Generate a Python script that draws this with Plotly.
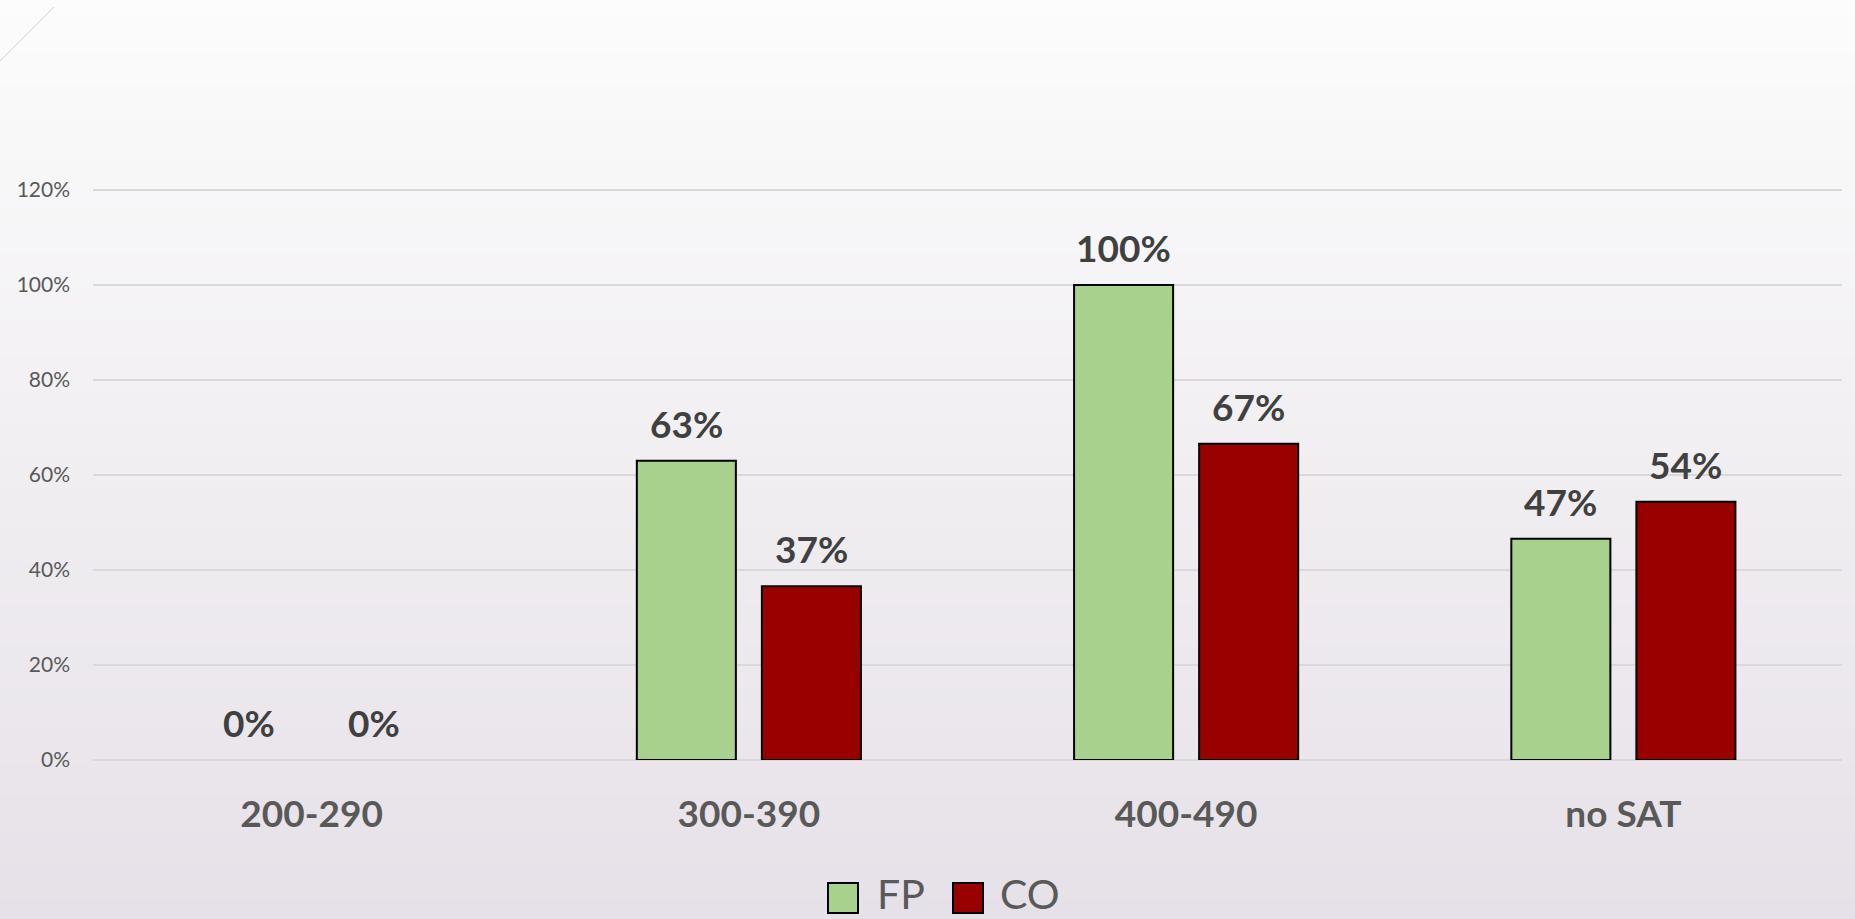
import base64, struct, zlib
import plotly.graph_objects as go

categories = ["200-290", "300-390", "400-490", "no SAT"]
fp_values = [0.0, 0.63, 1.00, 0.466]
co_values = [0.0, 0.366, 0.666, 0.544]
series_names = ["FP", "CO"]
series_colors = ["#A9D18E", "#990000"]
y_ticks = [0, 0.2, 0.4, 0.6, 0.8, 1.0, 1.2]

W, H = 1855, 919
Y_TOP = 1.215
L, R, B = 93, 13, 159
PH = round((H - B - 190) * Y_TOP / 1.2)
T = H - B - PH
PW = W - L - R

def px(X):
    return (X - L) / PW

def py(Y):
    return (H - B - Y) / PH

def gradient_png(top, bottom, n=256):
    rows = b""
    for i in range(n):
        f = i / (n - 1)
        c = [round(top[k] + (bottom[k] - top[k]) * f) for k in range(3)]
        rows += b"\x00" + bytes(c)
    def chunk(tag, data):
        return struct.pack(">I", len(data)) + tag + data + struct.pack(">I", zlib.crc32(tag + data) & 0xffffffff)
    png = b"\x89PNG\r\n\x1a\n" + chunk(b"IHDR", struct.pack(">IIBBBBB", 1, n, 8, 2, 0, 0, 0)) \
        + chunk(b"IDAT", zlib.compress(rows)) + chunk(b"IEND", b"")
    return "data:image/png;base64," + base64.b64encode(png).decode()

FONT = "Lato"
bargap = 0.428
bargroupgap = 0.208

fig = go.Figure()
for name, vals, col in zip(series_names, [fp_values, co_values], series_colors):
    fig.add_trace(go.Bar(x=categories, y=vals, name=name,
                         marker=dict(color=col, line=dict(color="#000000", width=[2 if v > 0 else 0 for v in vals])),
                         showlegend=False))

# data labels
cat_px = PW / len(categories)
slot = cat_px * (1 - bargap) / 2
annotations = []
for si, vals in enumerate([fp_values, co_values]):
    shift = (si - 0.5) * slot
    for c, v in zip(categories, vals):
        annotations.append(dict(x=c, y=v, xref="x", yref="y", text=f"{v:.0%}", showarrow=False,
                                yanchor="bottom", xshift=shift, yshift=13,
                                font=dict(family=FONT, size=37, color="#404040", weight="bold")))

# manual legend
leg = [(828, 875, series_names[0], series_colors[0]), (953, 998, series_names[1], series_colors[1])]
shapes = []
for sx, tx, name, col in leg:
    shapes.append(dict(type="rect", xref="paper", yref="paper", x0=px(sx), x1=px(sx + 30), y0=py(913), y1=py(883),
                       fillcolor=col, line=dict(color="#000000", width=2)))
    annotations.append(dict(x=px(tx), y=py(893), xref="paper", yref="paper", text=name, showarrow=False,
                            xanchor="left", yanchor="middle",
                            font=dict(family=FONT, size=41, color="#595959", weight=400)))

shapes.append(dict(type="line", xref="paper", yref="paper", x0=px(0), y0=py(61), x1=px(54), y1=py(7),
                   line=dict(color="#DCCFDC", width=1)))

fig.update_layout(
    width=W, height=H,
    margin=dict(l=L, r=R, t=T, b=B, pad=0),
    paper_bgcolor="#F1EFF2", plot_bgcolor="rgba(0,0,0,0)",
    barmode="group", bargap=bargap, bargroupgap=bargroupgap,
    showlegend=False,
    annotations=annotations, shapes=shapes,
    images=[dict(source=gradient_png((252, 252, 252), (230, 225, 232)), xref="paper", yref="paper",
                 x=px(0), y=py(0), sizex=W / PW, sizey=H / PH, xanchor="left", yanchor="top",
                 sizing="stretch", layer="below")],
    xaxis=dict(showgrid=False, showline=False, zeroline=False, ticks="",
               ticklabelstandoff=29,
               tickfont=dict(family=FONT, size=37, color="#595959", weight="bold")),
    yaxis=dict(range=[0, Y_TOP], tickvals=y_ticks, tickformat=".0%", showgrid=True, gridcolor="#D9D9D9",
               gridwidth=1.5, zeroline=True, zerolinecolor="#D9D9D9", zerolinewidth=1.5, showline=False,
               ticks="", ticklabelstandoff=22,
               tickfont=dict(family=FONT, size=21, color="#595959")),
)

fig.write_html("out.html")
